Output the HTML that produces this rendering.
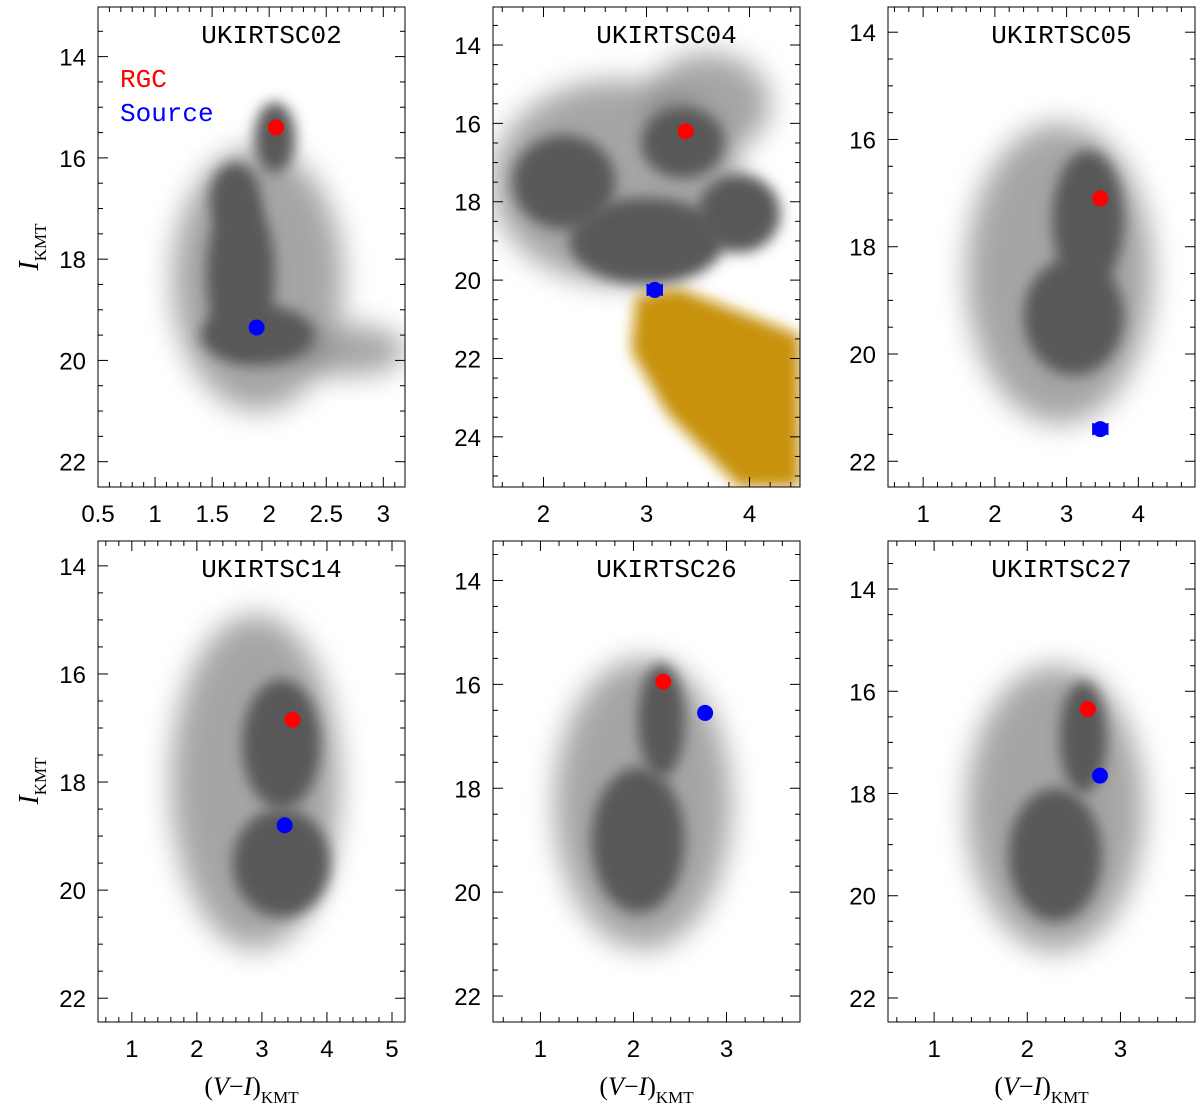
<!DOCTYPE html>
<html><head><meta charset="utf-8"><style>
body{margin:0;background:#fff;}
svg text{font-family:"Liberation Sans",sans-serif;}
</style></head><body>
<svg id="chart" width="1200" height="1109" viewBox="0 0 1200 1109" xmlns="http://www.w3.org/2000/svg">
<defs>
<filter id="soft" x="-50%" y="-50%" width="200%" height="200%"><feGaussianBlur stdDeviation="7"/></filter>
<filter id="soft2" x="-50%" y="-50%" width="200%" height="200%"><feGaussianBlur stdDeviation="14"/></filter>
</defs>
</svg>
<script>
// Panel titles
const titles = ["UKIRTSC02","UKIRTSC04","UKIRTSC05","UKIRTSC14","UKIRTSC26","UKIRTSC27"];
// x ticks per panel
const xTicks = [[0.5,1,1.5,2,2.5,3],[2,3,4],[1,2,3,4],[1,2,3,4,5],[1,2,3],[1,2,3]];
const xTickLabels = [["0.5","1","1.5","2","2.5","3"],["2","3","4"],["1","2","3","4"],["1","2","3","4","5"],["1","2","3"],["1","2","3"]];
const yTicks = [[14,16,18,20,22],[14,16,18,20,22,24],[14,16,18,20,22],[14,16,18,20,22],[14,16,18,20,22],[14,16,18,20,22]];
// RGC and source positions [colour, magnitude]
const rgcPts = [[2.06,15.4],[3.38,16.2],[3.47,17.1],[3.47,16.85],[2.32,15.95],[2.65,16.35]];
const srcPts = [[1.89,19.35],[3.08,20.25],[3.47,21.4],[3.35,18.8],[2.77,16.55],[2.78,17.65]];
const srcErr = [0.02,0.07,0.1,0.02,0.02,0.02];
// star cloud density blobs [x, y, sx, sy]
const coreBlobs = [
 [[1.75,18.3,0.3,1.6],[1.9,19.5,0.5,0.6],[2.05,15.6,0.18,0.7],[1.7,16.8,0.22,0.7]],
 [[3.0,19.0,0.75,1.1],[3.35,16.5,0.4,0.9],[2.2,17.5,0.5,1.2],[3.9,18.3,0.4,1.0]],
 [[3.1,19.3,0.7,1.1],[3.3,17.5,0.5,1.3]],
 [[3.3,19.5,0.75,1.0],[3.3,17.3,0.6,1.2]],
 [[2.05,19.0,0.5,1.4],[2.3,16.7,0.25,1.1]],
 [[2.3,19.2,0.5,1.3],[2.6,16.9,0.25,1.1]]
];
const haloBlobs = [
 [[1.9,18.4,0.75,2.6],[2.7,19.8,0.5,0.5]],
 [[2.7,17.5,1.2,2.6],[3.6,15.5,0.6,1.3]],
 [[2.9,18.5,1.3,2.8]],
 [[2.9,18.0,1.3,3.1]],
 [[2.1,18.3,0.95,2.8]],
 [[2.3,18.3,0.95,2.8]]
];
// foreground (yellow) region in panel 2 [x, y]
const yellowPoly = [[2.9,20.4],[3.3,20.2],[4.49,21.4],[4.49,25.28],[3.9,25.28],[3.2,23.4],[2.85,21.8]];

const panels = [
 {x0:98,x1:405,y0:7,y1:487,xa:0.5,xb:3.19,ya:13.02,yb:22.5,xm:0.1},
 {x0:493,x1:800,y0:7,y1:487,xa:1.51,xb:4.49,ya:13.03,yb:25.28,xm:0.2},
 {x0:888,x1:1195,y0:7,y1:487,xa:0.51,xb:4.79,ya:13.53,yb:22.48,xm:0.2},
 {x0:98,x1:405,y0:541,y1:1022,xa:0.48,xb:5.2,ya:13.54,yb:22.44,xm:0.2},
 {x0:493,x1:800,y0:541,y1:1022,xa:0.49,xb:3.79,ya:13.24,yb:22.5,xm:0.2},
 {x0:888,x1:1195,y0:541,y1:1022,xa:0.505,xb:3.8,ya:13.06,yb:22.47,xm:0.2}
];
const svg=document.getElementById('chart');
const NS="http://www.w3.org/2000/svg";
function mk(tag,attrs,parent){const e=document.createElementNS(NS,tag);for(const k in attrs)e.setAttribute(k,attrs[k]);(parent||svg).appendChild(e);return e;}
panels.forEach((p,i)=>{
 const sx=v=>p.x0+(v-p.xa)/(p.xb-p.xa)*(p.x1-p.x0);
 const sy=v=>p.y0+(v-p.ya)/(p.yb-p.ya)*(p.y1-p.y0);
 const g=mk('g',{});
 
 
 mk('clipPath',{id:'c'+i},g);
 mk('rect',{x:p.x0,y:p.y0,width:p.x1-p.x0,height:p.y1-p.y0},g.lastChild);
 const cl=mk('g',{'clip-path':'url(#c'+i+')'},g);
 haloBlobs[i].forEach(b=>{const e=mk('ellipse',{cx:sx(b[0]),cy:sy(b[1]),rx:Math.abs(sx(b[0]+b[2])-sx(b[0])),ry:Math.abs(sy(b[1]+b[3])-sy(b[1])),fill:'#808080',opacity:0.7,filter:'url(#soft2)'},cl);
  
  });
 if(i===1){const pg=mk('polygon',{points:yellowPoly.map(q=>sx(q[0])+','+sy(q[1])).join(' '),fill:'#c8920c',filter:'url(#soft)'},cl);
  
  }
 coreBlobs[i].forEach(b=>{const e=mk('ellipse',{cx:sx(b[0]),cy:sy(b[1]),rx:Math.abs(sx(b[0]+b[2])-sx(b[0])),ry:Math.abs(sy(b[1]+b[3])-sy(b[1])),fill:'#585858',filter:'url(#soft)'},cl);
  
  });
 mk('rect',{x:p.x0,y:p.y0,width:p.x1-p.x0,height:p.y1-p.y0,fill:'none',stroke:'#000','stroke-width':1},g);
 for(let v=Math.ceil(p.xa/p.xm)*p.xm;v<=p.xb;v+=p.xm){const X=sx(v);const major=xTicks[i].some(t=>Math.abs(t-v)<1e-6);const L=major?10:5;
  mk('line',{x1:X,x2:X,y1:p.y1,y2:p.y1-L,stroke:'#000'},g);mk('line',{x1:X,x2:X,y1:p.y0,y2:p.y0+L,stroke:'#000'},g);}
 for(let v=Math.ceil(p.ya*2)/2;v<=p.yb;v+=0.5){const Y=sy(v);const major=yTicks[i].includes(v);const L=major?10:5;
  mk('line',{x1:p.x0,x2:p.x0+L,y1:Y,y2:Y,stroke:'#000'},g);mk('line',{x1:p.x1,x2:p.x1-L,y1:Y,y2:Y,stroke:'#000'},g);}
 xTicks[i].forEach((t,j)=>{const e=mk('text',{x:sx(t),y:p.y1+35,'text-anchor':'middle','font-size':24},g);e.textContent=xTickLabels[i][j];
  
  });
 yTicks[i].forEach(t=>{const e=mk('text',{x:p.x0-12,y:sy(t)+9,'text-anchor':'end','font-size':24},g);e.textContent=t;
  
  });
 const tt=mk('text',{x:(p.x0+p.x1)/2+20,y:p.y0+36,'text-anchor':'middle','font-size':26,style:'font-family:"Liberation Mono",monospace'},g);tt.textContent=titles[i];
 
 
 const r=rgcPts[i],s=srcPts[i];
 const rc=mk('circle',{cx:sx(r[0]),cy:sy(r[1]),r:8,fill:'#ff0000'},g);
 
 
 const e1=sx(s[0]-srcErr[i]),e2=sx(s[0]+srcErr[i]);
 mk('line',{x1:e1,x2:e2,y1:sy(s[1]),y2:sy(s[1]),stroke:'#0000ff','stroke-width':2},g);
 mk('line',{x1:e1,x2:e1,y1:sy(s[1])-6,y2:sy(s[1])+6,stroke:'#0000ff','stroke-width':2},g);
 mk('line',{x1:e2,x2:e2,y1:sy(s[1])-6,y2:sy(s[1])+6,stroke:'#0000ff','stroke-width':2},g);
 const sc=mk('circle',{cx:sx(s[0]),cy:sy(s[1]),r:8,fill:'#0000ff'},g);
 
 
 if(i>=3){const xl=mk('text',{x:(p.x0+p.x1)/2,y:1095,'text-anchor':'middle','font-size':26,style:'font-family:"Liberation Serif",serif'},g);
  xl.innerHTML='(<tspan font-style="italic">V</tspan>−<tspan font-style="italic">I</tspan>)<tspan font-size="17" dy="8">KMT</tspan>';
  
  }
 if(i===0||i===3){const cy=i===0?247:781;const yl=mk('text',{transform:'translate(38,'+cy+') rotate(-90)','text-anchor':'middle','font-size':28,style:'font-family:"Liberation Serif",serif'},g);
  yl.innerHTML='<tspan font-style="italic">I</tspan><tspan font-size="17" dy="8">KMT</tspan>';
  
  }
});
const l1=mk('text',{x:120,y:87,'font-size':26,fill:'#ff0000',style:'font-family:"Liberation Mono",monospace'});l1.textContent='RGC';


const l2=mk('text',{x:120,y:121,'font-size':26,fill:'#0000ff',style:'font-family:"Liberation Mono",monospace'});l2.textContent='Source';


</script>
</body></html>
